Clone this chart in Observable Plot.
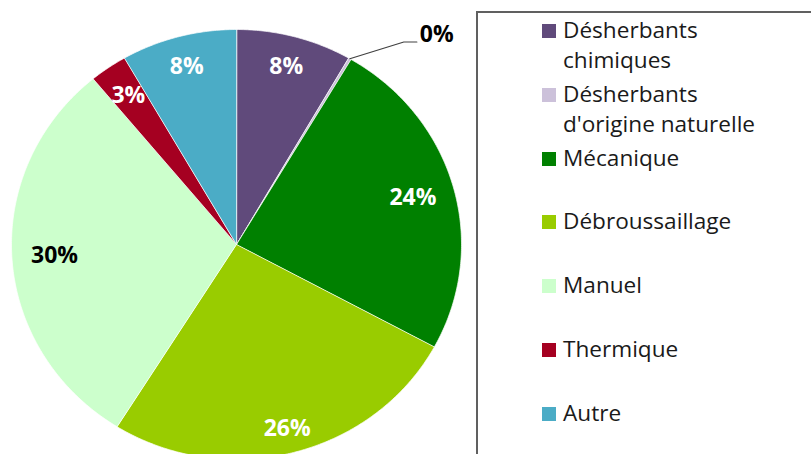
<!DOCTYPE html>
<html>
<head>
<meta charset="utf-8">
<script src="https://cdn.jsdelivr.net/npm/d3@7"></script>
<script src="https://cdn.jsdelivr.net/npm/@observablehq/plot@0.6"></script>
<style>
  html, body { margin: 0; padding: 0; background: #fff; }
  #wrap { position: relative; width: 811px; height: 454px; overflow: hidden; font-family: "Open Sans", sans-serif; }
  #legend { position: absolute; left: 476px; top: 11px; width: 420px; height: 520px; border: 2px solid #606060; box-sizing: border-box; }
  .item { position: absolute; left: 0; font-size: 22.6px; line-height: 30px; color: #1a1a1a; white-space: nowrap; }
  .sw { position: absolute; width: 14px; height: 14px; }
</style>
</head>
<body>
<div id="wrap"><div id="chart"></div><div id="legend"></div></div>
<script>
// ---- data ----
const categories = ["Désherbants chimiques", "Désherbants d'origine naturelle", "Mécanique", "Débroussaillage", "Manuel", "Thermique", "Autre"];
const legendLines = [["Désherbants", "chimiques"], ["Désherbants", "d'origine naturelle"], ["Mécanique"], ["Débroussaillage"], ["Manuel"], ["Thermique"], ["Autre"]];
const values = [8.3, 0.2, 24.4, 26.0, 30.1, 2.7, 8.3];
const labels = ["8%", "0%", "24%", "26%", "30%", "3%", "8%"];
const colors = ["#604A7B", "#CCC1DA", "#008000", "#99CC00", "#CCFFCC", "#A50021", "#4BACC6"];

// ---- geometry from data ----
const arcs = d3.pie().sort(null).value(d => d)(values);
const slicePts = [];
arcs.forEach((a, i) => {
  const n = Math.max(2, Math.ceil((a.endAngle - a.startAngle) / 0.01));
  slicePts.push({cat: categories[i], color: colors[i], x: 0, y: 0});
  for (let k = 0; k <= n; k++) {
    const t = a.startAngle + (a.endAngle - a.startAngle) * k / n;
    slicePts.push({cat: categories[i], color: colors[i], x: Math.sin(t), y: Math.cos(t)});
  }
});

const inside = [], outside = [], leaders = [];
arcs.forEach((a, i) => {
  const m = (a.startAngle + a.endAngle) / 2;
  if (values[i] < 1) {
    const px = Math.sin(m), py = Math.cos(m);
    const ex = px + 0.24, ey = py + 0.078;
    leaders.push({x: px, y: py, z: i}, {x: ex, y: ey, z: i}, {x: ex + 0.058, y: ey, z: i});
    outside.push({x: ex + 0.071, y: ey + 0.033, text: labels[i]});
  } else {
    // best-fit style: labels sit closer to the rim at top and bottom
    const c = Math.cos(m);
    const R = 0.81 + 0.05 * c * c + (c < 0 ? 0.03 * c * c : 0);
    const light = d3.hsl(colors[i]).l > 0.7;
    inside.push({x: R * Math.sin(m), y: R * c, text: labels[i], fill: light ? "#000000" : "#ffffff"});
  }
});

const plot = Plot.plot({
  width: 811,
  height: 454,
  margin: 0,
  style: {fontFamily: "Open Sans, sans-serif", background: "transparent"},
  x: {domain: [-1, 1], range: [11, 461], axis: null},
  y: {domain: [-1, 1], range: [459, 29], axis: null},
  marks: [
    Plot.line(slicePts, {x: "x", y: "y", z: "cat", fill: "color", stroke: "#ffffff", strokeWidth: 0.7, curve: "linear-closed"}),
    Plot.line(leaders, {x: "x", y: "y", z: "z", stroke: "#404040", strokeWidth: 1.2}),
    Plot.text(inside, {x: "x", y: "y", text: "text", fill: "fill", fontSize: 23, fontWeight: "bold"}),
    Plot.text(outside, {x: "x", y: "y", text: "text", fill: "#000000", fontSize: 23, fontWeight: "bold", textAnchor: "start"})
  ]
});
document.getElementById("chart").appendChild(plot);

// ---- legend ----
const legend = document.getElementById("legend");
const ox = 476 + 2, oy = 11 + 2; // legend box origin (inside border)
legendLines.forEach((lines, i) => {
  const baseline = 39 + i * 63.8;
  const sw = document.createElement("div");
  sw.className = "sw";
  sw.style.background = colors[i];
  sw.style.left = (542 - ox) + "px";
  sw.style.top = (baseline - 15 - oy) + "px";
  legend.appendChild(sw);
  const it = document.createElement("div");
  it.className = "item";
  it.style.left = (563 - ox) + "px";
  it.style.top = (baseline - 24 - oy) + "px";
  it.innerHTML = lines.map(l => l.replace(/&/g, "&amp;")).join("<br>");
  legend.appendChild(it);
});
</script>
</body>
</html>
